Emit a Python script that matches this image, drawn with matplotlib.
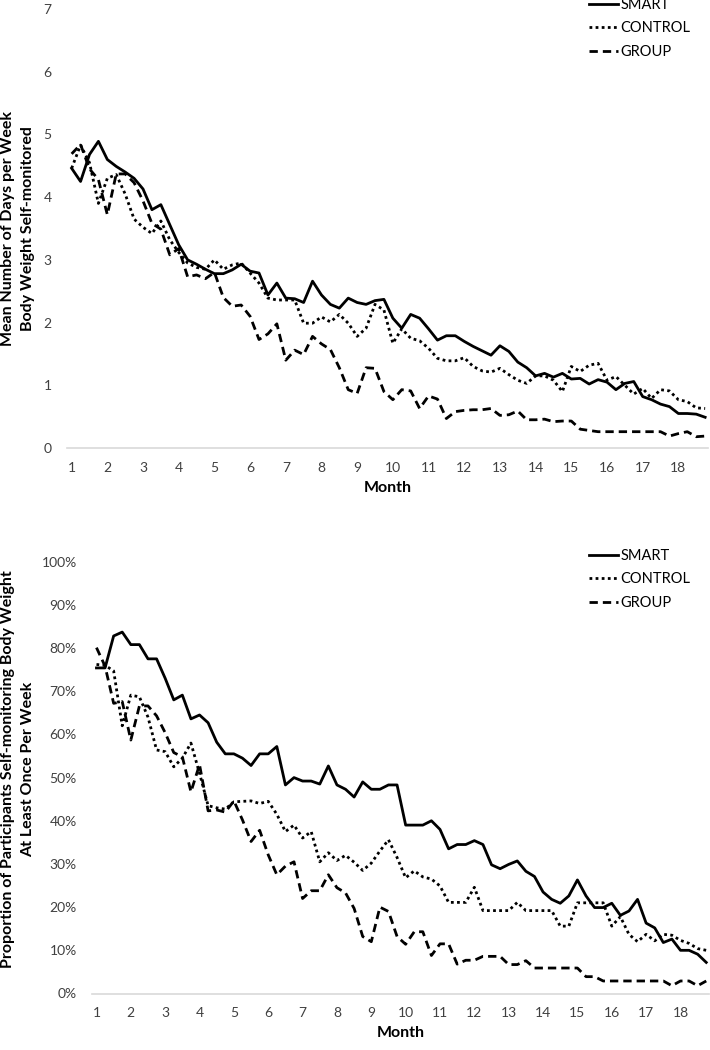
import numpy as np
import matplotlib
matplotlib.use("Agg")
import matplotlib.pyplot as plt
from matplotlib.ticker import FuncFormatter

plt.rcParams['font.family'] = ['Lato', 'DejaVu Sans']

# weekly values, 72 weeks = 18 months
weeks = np.arange(1, 73)
months = 1 + (weeks - 1) / 4.0
month_ticks = list(range(1, 19))

smart_days = [4.46, 4.25, 4.68, 4.89, 4.60, 4.49, 4.40, 4.30, 4.13, 3.80,
              3.88, 3.56, 3.24, 3.00, 2.93, 2.85, 2.78, 2.78, 2.84, 2.93,
              2.82, 2.79, 2.44, 2.63, 2.39, 2.38, 2.32, 2.66, 2.44, 2.29,
              2.23, 2.39, 2.32, 2.29, 2.35, 2.37, 2.07, 1.91, 2.13, 2.07,
              1.90, 1.72, 1.79, 1.79, 1.70, 1.62, 1.55, 1.48, 1.63, 1.54,
              1.37, 1.28, 1.15, 1.19, 1.13, 1.19, 1.10, 1.11, 1.02, 1.09,
              1.05, 0.93, 1.03, 1.06, 0.82, 0.77, 0.70, 0.66, 0.55, 0.55,
              0.54, 0.49]
control_days = [4.46, 4.83, 4.55, 3.90, 4.30, 4.36, 4.05, 3.65, 3.52, 3.42,
                3.62, 3.32, 3.12, 2.95, 2.88, 2.85, 3.00, 2.85, 2.92, 2.95,
                2.79, 2.63, 2.39, 2.36, 2.36, 2.36, 1.99, 1.99, 2.09, 2.01,
                2.13, 1.99, 1.78, 1.91, 2.29, 2.20, 1.67, 1.90, 1.75, 1.71,
                1.59, 1.43, 1.39, 1.39, 1.44, 1.30, 1.23, 1.21, 1.27, 1.17,
                1.08, 1.03, 1.15, 1.15, 1.08, 0.90, 1.30, 1.22, 1.32, 1.35,
                1.08, 1.14, 1.00, 0.86, 0.95, 0.79, 0.93, 0.91, 0.77, 0.74,
                0.64, 0.63]
group_days = [4.69, 4.84, 4.45, 4.28, 3.72, 4.37, 4.37, 4.23, 3.94, 3.58,
              3.49, 3.08, 3.18, 2.73, 2.76, 2.70, 2.80, 2.40, 2.26, 2.28,
              2.10, 1.73, 1.82, 1.98, 1.40, 1.56, 1.49, 1.78, 1.66, 1.57,
              1.28, 0.93, 0.87, 1.28, 1.27, 0.90, 0.77, 0.93, 0.91, 0.63,
              0.83, 0.78, 0.47, 0.58, 0.60, 0.61, 0.61, 0.63, 0.52, 0.53,
              0.59, 0.45, 0.45, 0.46, 0.42, 0.43, 0.43, 0.30, 0.28, 0.26,
              0.26, 0.26, 0.26, 0.26, 0.26, 0.26, 0.26, 0.19, 0.23, 0.26,
              0.18, 0.19]

smart_pct = [75.4, 75.4, 82.8, 83.7, 80.8, 80.8, 77.5, 77.5, 73.0, 68.0,
             69.1, 63.6, 64.5, 62.7, 58.2, 55.5, 55.5, 54.5, 52.8, 55.5,
             55.5, 57.2, 48.3, 50.0, 49.2, 49.2, 48.5, 52.7, 48.3, 47.3,
             45.5, 49.0, 47.3, 47.3, 48.3, 48.3, 39.0, 39.0, 39.0, 40.0,
             38.0, 33.5, 34.5, 34.5, 35.4, 34.5, 29.8, 28.9, 29.9, 30.7,
             28.3, 27.1, 23.5, 21.8, 20.9, 22.6, 26.3, 22.6, 19.9, 19.9,
             20.9, 18.1, 19.1, 21.8, 16.3, 15.2, 11.8, 12.6, 10.0, 10.0,
             9.1, 7.2]
control_pct = [76.2, 76.0, 74.7, 62.0, 69.1, 68.7, 64.0, 56.4, 56.0, 52.5,
               54.5, 58.0, 51.0, 43.5, 43.0, 42.7, 44.4, 44.5, 44.6, 44.0,
               44.5, 41.5, 37.5, 39.0, 36.0, 37.5, 30.5, 32.6, 30.8, 32.0,
               30.4, 28.5, 30.2, 33.0, 35.6, 31.5, 26.8, 28.4, 27.0, 26.5,
               24.9, 21.1, 21.1, 21.1, 24.6, 19.2, 19.2, 19.2, 19.2, 21.1,
               19.2, 19.2, 19.2, 19.2, 15.6, 15.6, 21.0, 21.0, 21.0, 21.0,
               15.6, 17.8, 13.7, 12.0, 13.7, 12.2, 13.7, 13.5, 12.3, 11.6,
               10.4, 10.0]
group_pct = [80.1, 75.8, 67.2, 67.6, 58.7, 66.6, 66.6, 64.3, 60.4, 55.8,
             54.8, 46.7, 53.0, 42.3, 42.5, 42.0, 44.6, 40.2, 35.2, 37.8,
             32.1, 27.5, 29.5, 30.5, 22.0, 23.8, 23.8, 27.5, 24.5, 23.3,
             19.7, 13.2, 12.0, 20.0, 19.0, 13.2, 11.4, 14.3, 14.3, 8.8,
             11.5, 11.5, 6.8, 7.7, 7.7, 8.6, 8.6, 8.6, 6.7, 6.7,
             7.6, 5.9, 5.9, 5.9, 5.9, 5.9, 5.9, 3.9, 3.9, 2.9,
             2.9, 2.9, 2.9, 2.9, 2.9, 2.9, 2.9, 1.8, 2.9, 2.9,
             1.8, 2.9]

styles = {
    'SMART': dict(linestyle='-'),
    'CONTROL': dict(linestyle=(0, (1, 1.2))),
    'GROUP': dict(linestyle=(0, (3, 1.8))),
}

fig = plt.figure(figsize=(7.1, 10.5), dpi=100)
W, H = 710.0, 1050.0

ax1 = fig.add_axes([67 / W, 1 - 448 / H, 641 / W, 439 / H])
ax2 = fig.add_axes([92 / W, 1 - 993.5 / H, 617 / W, 431.8 / H])

tick_color = '#404040'


def style_axis(ax):
    for side in ['top', 'right', 'left']:
        ax.spines[side].set_visible(False)
    ax.spines['bottom'].set_color('#d9d9d9')
    ax.spines['bottom'].set_linewidth(1.2)
    ax.set_xlim(0.87, 18.83)
    ax.set_xticks(month_ticks)
    ax.tick_params(axis='x', length=0, pad=10, labelsize=10, labelcolor=tick_color)
    ax.tick_params(axis='y', length=0, pad=11, labelsize=10, labelcolor=tick_color)


for name, vals in [('SMART', smart_days), ('CONTROL', control_days), ('GROUP', group_days)]:
    ax1.plot(months, vals, color='black', lw=2.0, label=name, **styles[name])
style_axis(ax1)
ax1.set_ylim(0, 7)
ax1.set_yticks(range(0, 8))
ax1.set_xlabel('Month', fontsize=11.5, fontweight='bold', va='top')
ax1.xaxis.set_label_coords(0.5, -0.075)
ax1.set_ylabel('Mean Number of Days per Week\nBody Weight Self-monitored',
               fontsize=11.5, fontweight='bold', va='center', linespacing=1.5)
ax1.yaxis.set_label_coords((18 - 67) / 641, 0.5)
ax1.legend(loc='upper left', bbox_to_anchor=(589 / W, 1 + 2 / H),
           bbox_transform=fig.transFigure, frameon=False, fontsize=10.5,
           handlelength=2.0, handletextpad=0.15, labelspacing=0.65, borderpad=0,
           borderaxespad=0)

for name, vals in [('SMART', smart_pct), ('CONTROL', control_pct), ('GROUP', group_pct)]:
    ax2.plot(months, vals, color='black', lw=2.0, label=name, **styles[name])
style_axis(ax2)
ax2.set_ylim(0, 100)
ax2.set_yticks(range(0, 101, 10))
ax2.yaxis.set_major_formatter(FuncFormatter(lambda v, p: '{:d}%'.format(int(round(v)))))
ax2.set_xlabel('Month', fontsize=11.5, fontweight='bold', va='top')
ax2.xaxis.set_label_coords(0.5, -0.076)
ax2.set_ylabel('Proportion of Participants Self-monitoring Body Weight\nAt Least Once Per Week',
               fontsize=11.5, fontweight='bold', va='center', linespacing=1.5)
ax2.yaxis.set_label_coords((18 - 92) / 617, (993.5 - 769) / 431.8)
ax2.legend(loc='upper left', bbox_to_anchor=(589 / W, 1 - 549 / H),
           bbox_transform=fig.transFigure, frameon=False, fontsize=10.5,
           handlelength=2.0, handletextpad=0.15, labelspacing=0.65, borderpad=0,
           borderaxespad=0)

fig.savefig('out.png', dpi=100)
